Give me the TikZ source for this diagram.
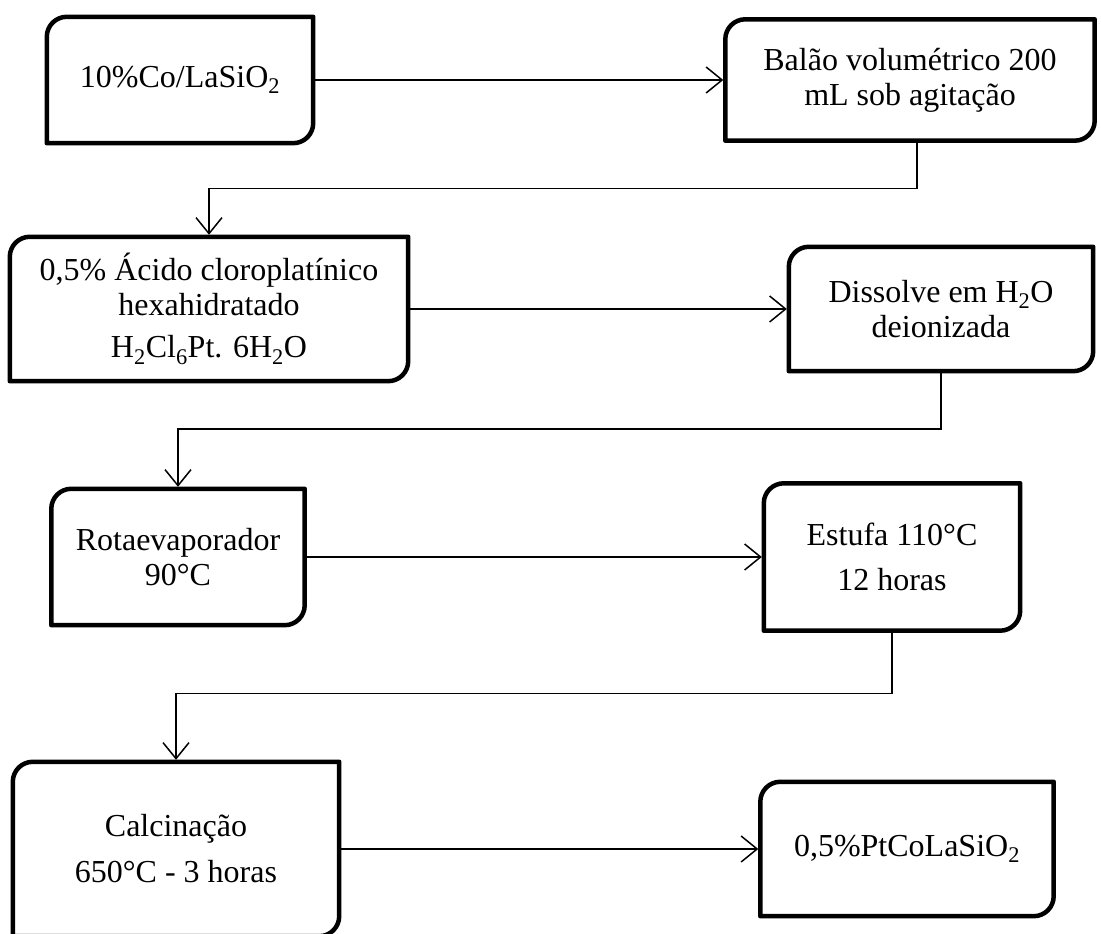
\documentclass[tikz,border=0pt]{standalone}
\usepackage{fontspec}
\setmainfont{Liberation Serif}
\usepackage{tikz}
\usetikzlibrary{arrows.meta,positioning}

\begin{document}
\begin{tikzpicture}[x=1pt, y=1pt,
    stage/.style={align=center, inner sep=0pt, font=\fontsize{32}{35}\selectfont},
    frame/.style={line width=4.5pt, line join=round},
    link/.style={line width=1.5pt, shorten >=2pt, -{Straight Barb[length=16pt,width=26pt]}}]
    \useasboundingbox (0,0) rectangle (1101,934);

    % Row 1
    \node[stage, minimum width=266pt, minimum height=126pt] (co) at (180,854) {10\%Co/LaSiO\textsubscript{2}};
    \node[stage, minimum width=369pt, minimum height=121pt] (balao) at (910,854) {Balão volumétrico 200\\mL sob agitação};

    % Row 2
    \node[stage, minimum width=398pt, minimum height=144pt] (acido) at (209,625) {0,5\% Ácido cloroplatínico\\hexahidratado\\[7pt]H\textsubscript{2}Cl\textsubscript{6}Pt. 6H\textsubscript{2}O};
    \node[stage, minimum width=304pt, minimum height=124pt] (dissolve) at (941,625) {Dissolve em H\textsubscript{2}O\\deionizada};

    % Row 3
    \node[stage, minimum width=253pt, minimum height=136pt] (rota) at (178,377) {Rotaevaporador\\90°C};
    \node[stage, minimum width=256pt, minimum height=147pt] (estufa) at (892,377) {Estufa 110°C\\[10pt]12 horas};

    % Row 4
    \node[stage, minimum width=326pt, minimum height=174pt] (calcina) at (176,85) {Calcinação\\[11pt]650°C - 3 horas};
    \node[stage, minimum width=293pt, minimum height=134pt] (produto) at (907,85) {0,5\%PtCoLaSiO\textsubscript{2}};

    % Box outlines: rounded top left and bottom right only
    \foreach \n in {co,balao,acido,dissolve,rota,estufa,calcina,produto}
        \draw[frame] (\n.south west) -- ([yshift=-20pt]\n.north west)
            arc[start angle=180, end angle=90, radius=20pt] -- (\n.north east)
            -- ([yshift=20pt]\n.south east)
            arc[start angle=0, end angle=-90, radius=20pt] -- cycle;

    % Connectors
    \draw[link] (co.east) -- (balao.west);
    \draw[link] ([xshift=7pt]balao.south) -- ++(0,-48) -| (acido.north);
    \draw[link] (acido.east) -- (dissolve.west);
    \draw[link] (dissolve.south) -- ++(0,-58) -| (rota.north);
    \draw[link] (rota.east) -- (estufa.west);
    \draw[link] (estufa.south) -- ++(0,-63) -| (calcina.north);
    \draw[link] (calcina.east) -- (produto.west);
\end{tikzpicture}
\end{document}
